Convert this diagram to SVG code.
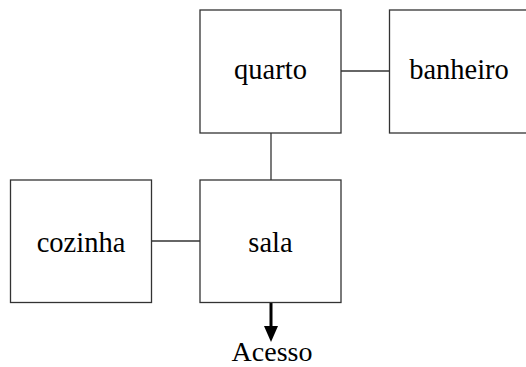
<svg xmlns="http://www.w3.org/2000/svg" width="526" height="367" viewBox="0 0 526 367">
<defs>
<style>
.box{fill:#fff;stroke:#333;stroke-width:1.3}
.lbl{font-family:"Liberation Serif",serif;font-size:28.5px;fill:#000;text-anchor:middle}
.con{stroke:#333;stroke-width:1.3;fill:none}
</style>
</defs>
<rect width="526" height="367" fill="#fff"/>
<g id="connectors">
<line class="con" x1="341" y1="71" x2="389" y2="71"/>
<line class="con" x1="271" y1="133" x2="271" y2="180"/>
<line class="con" x1="151" y1="241" x2="200" y2="241"/>
<line x1="271" y1="302" x2="271" y2="328" stroke="#000" stroke-width="3"/>
<path d="M264,326 L278,326 L271,342 Z" fill="#000"/>
</g>
<g id="quarto"><rect class="box" x="200" y="10" width="141" height="123"/><text class="lbl" x="270.5" y="79">quarto</text></g>
<g id="banheiro"><rect class="box" x="389.5" y="10" width="141" height="123"/><text class="lbl" x="459" y="79">banheiro</text></g>
<g id="cozinha"><rect class="box" x="10.5" y="180" width="141" height="122.5"/><text class="lbl" x="81" y="252">cozinha</text></g>
<g id="sala"><rect class="box" x="200" y="180" width="141" height="122.5"/><text class="lbl" x="270.5" y="252">sala</text></g>
<g id="acesso"><text class="lbl" x="272" y="361" style="font-size:28px">Acesso</text></g>
</svg>
